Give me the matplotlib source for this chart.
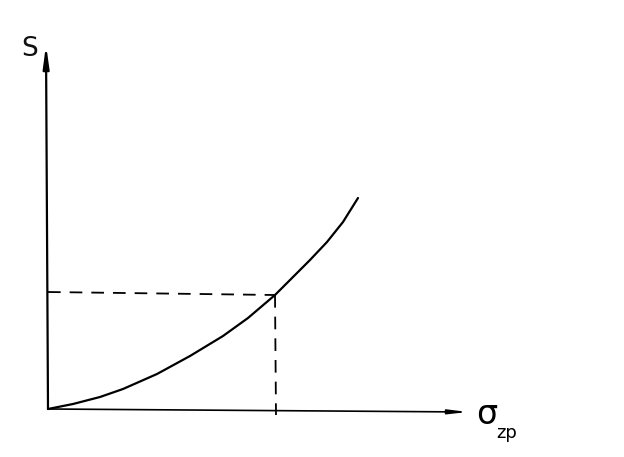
import matplotlib
matplotlib.use("Agg")
import matplotlib.pyplot as plt

# Data (pixel-based units relative to origin)
curve_x = [0, 25, 52, 75, 109, 142, 175, 200, 227, 245, 262, 279, 295, 310]
curve_y = [0, 5, 12, 20, 35, 53, 73, 91, 114, 132, 149, 167, 187, 211]
mark_x = 227
mark_y = 114
x_label = "σ"
x_sub = "zp"
y_label = "S"

fig = plt.figure(figsize=(6.24, 4.57), dpi=100)
ax = fig.add_axes([0, 0, 1, 1])
ax.set_xlim(-48, 576)
ax.set_ylim(-48, 409)
ax.axis("off")

# axes with arrows
ax.annotate("", xy=(-2, 364), xytext=(0, 0),
            arrowprops=dict(arrowstyle="-|>,head_length=1.3,head_width=0.18", lw=1.6, color="black", shrinkA=0, shrinkB=0))
ax.annotate("", xy=(420, -3), xytext=(0, 0),
            arrowprops=dict(arrowstyle="-|>,head_length=1.1,head_width=0.13", lw=1.2, color="black", shrinkA=0, shrinkB=0))

# curve
ax.plot(curve_x, curve_y, color="black", lw=1.6, solid_capstyle="round", solid_joinstyle="round")

# dashed guides
ax.plot([0, mark_x], [mark_y + 3, mark_y], color="black", lw=1.3, dashes=(7, 5))
ax.plot([mark_x, mark_x + 1], [mark_y, -6], color="black", lw=1.3, dashes=(7, 5))

# labels
ax.text(-27, 360, y_label, fontsize=19, family="DejaVu Sans", ha="left", va="center", color="#111111")
ax.text(428, -5, x_label, fontsize=24, ha="left", va="center")
ax.text(448, -24, x_sub, fontsize=13, ha="left", va="center")

fig.savefig("out.png", dpi=100, facecolor="white")
